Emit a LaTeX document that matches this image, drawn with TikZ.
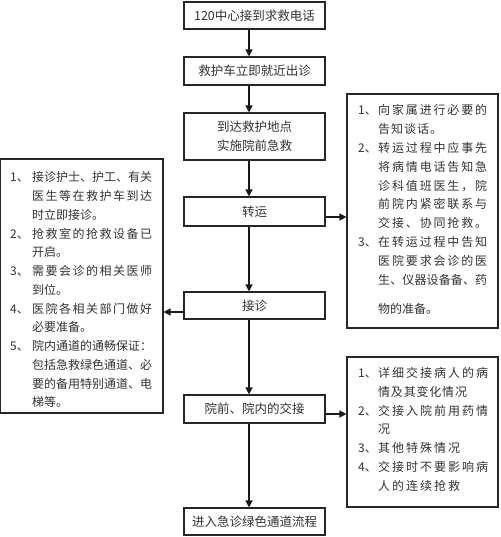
\documentclass[tikz,border=0pt]{standalone}
\usepackage{fontspec}
\setmainfont{Noto Sans CJK SC}
\usetikzlibrary{arrows.meta}
\newcommand\lbl[2]{\makebox[#1][l]{#2}}
\newcommand\cnt[1]{\hspace*{#1}}
% justified line: characters spread to a given width
\def\jfirstch#1{#1\jrestch}
\def\jrestch#1{\ifx#1\relax\else\hskip 0pt plus 1fil minus 2pt\relax#1\expandafter\jrestch\fi}
\newcommand\jline[2]{\makebox[#1][s]{\jfirstch#2\relax}}
% line with a fixed gap between characters
\def\gfirstch#1{#1\grestch}
\def\grestch#1{\ifx#1\relax\else\hskip\mygap\relax#1\expandafter\grestch\fi}
\newcommand\gline[2]{\def\mygap{#1}\gfirstch#2\relax}
\begin{document}
\begin{tikzpicture}[x=1pt,y=-1pt,
  mainbox/.style={draw=black!85,line width=1.1pt,minimum width=141pt,inner sep=0pt,
    align=center,font=\fontsize{12.5}{19}\selectfont,text=black!80},
  sidebox/.style={draw=black!85,line width=1.1pt,inner sep=0pt},
  sidetext/.style={anchor=north west,inner sep=0pt,align=left,text=black!80},
  arr/.style={line width=1.3pt,draw=black!90,-{Triangle[length=7pt,width=7pt]}}]
\useasboundingbox (0,0) rectangle (500,537);
\fill[white] (0,0) rectangle (500,537);
% main column
\node[mainbox,minimum height=27pt] (b1) at (254.5,15.5) {120中心接到求救电话};
\node[mainbox,minimum height=28pt] (b2) at (254.5,71) {救护车立即就近出诊};
\node[mainbox,minimum height=47pt] (b3) at (254.5,136.5) {到达救护地点\\实施院前急救};
\node[mainbox,minimum height=29pt] (b4) at (254.5,211.5) {转运};
\node[mainbox,minimum height=27pt] (b5) at (254.5,305.5) {接诊};
\node[mainbox,minimum height=28pt] (b6) at (254.5,409) {院前、院内的交接};
\node[mainbox,minimum height=27pt] (b7) at (254.5,521.5) {进入急诊绿色通道流程};
% side boxes
\node[sidebox,minimum width=163pt,minimum height=254pt] (L) at (81.5,286) {};
\node[sidebox,minimum width=151pt,minimum height=234pt] (R1) at (422.5,211) {};
\node[sidebox,minimum width=151pt,minimum height=150pt] (R2) at (422.5,432) {};
% side texts
\node[sidetext,font=\fontsize{12}{18.75}\selectfont] (Lt) at (10,171.5) {%
\lbl{22pt}{1、}\jline{120pt}{接诊护士、护工、有关}\\
\cnt{22pt}\jline{120pt}{医生等在救护车到达}\\
\cnt{22pt}时立即接诊。\\
\lbl{22pt}{2、}\jline{120pt}{抢救室的抢救设备已}\\
\cnt{22pt}开启。\\
\lbl{22pt}{3、}\jline{120pt}{需要会诊的相关医师}\\
\cnt{22pt}到位。\\
\lbl{22pt}{4、}\jline{120pt}{医院各相关部门做好}\\
\cnt{22pt}必要准备。\\
\lbl{22pt}{5、}\jline{120pt}{院内通道的通畅保证：}\\
\cnt{22pt}\jline{120pt}{包括急救绿色通道、必}\\
\cnt{22pt}\jline{120pt}{要的备用特别通道、电}\\
\cnt{22pt}梯等。};
\node[sidetext,font=\fontsize{12}{18.8}\selectfont] (R1t) at (358,104.5) {%
\lbl{20pt}{1、}\jline{109pt}{向家属进行必要的}\\
\cnt{20pt}\gline{1pt}{告知谈话。}\\
\lbl{20pt}{2、}\jline{109pt}{转运过程中应事先}\\
\cnt{20pt}\jline{109pt}{将病情电话告知急}\\
\cnt{20pt}\jline{109pt}{诊科值班医生，院}\\
\cnt{20pt}\jline{109pt}{前院内紧密联系与}\\
\cnt{20pt}\jline{109pt}{交接、协同抢救。}\\
\lbl{20pt}{3、}\jline{109pt}{在转运过程中告知}\\
\cnt{20pt}\jline{109pt}{医院要求会诊的医}\\
\cnt{20pt}\jline{109pt}{生、仪器设备备、药}\\[11pt]
\cnt{20pt}物的准备。};
\node[sidetext,font=\fontsize{12}{18.7}\selectfont] (R2t) at (358,367.5) {%
\lbl{20pt}{1、}\jline{110pt}{详细交接病人的病}\\
\cnt{20pt}\gline{0.8pt}{情及其变化情况}\\
\lbl{20pt}{2、}\jline{110pt}{交接入院前用药情}\\
\cnt{20pt}况\\
\lbl{20pt}{3、}\gline{2pt}{其他特殊情况}\\
\lbl{20pt}{4、}\jline{110pt}{交接时不要影响病}\\
\cnt{20pt}\gline{2pt}{人的连续抢救}};
% connectors
\coordinate (ax) at (249,0);
\draw[arr] (b1.south -| ax) -- (b2.north -| ax);
\draw[arr] (b2.south -| ax) -- (b3.north -| ax);
\draw[arr] (b3.south -| ax) -- (b4.north -| ax);
\draw[arr] (b4.south -| ax) -- (b5.north -| ax);
\draw[arr] (b5.south -| ax) -- (b6.north -| ax);
\draw[arr] (b6.south -| ax) -- (b7.north -| ax);
\coordinate (y1) at (0,217);
\coordinate (y2) at (0,312);
\coordinate (y3) at (0,414);
\draw[arr] (b4.east |- y1) -- (R1.west |- y1);
\draw[arr] (b5.west |- y2) -- (L.east |- y2);
\draw[arr] (b6.east |- y3) -- (R2.west |- y3);
\end{tikzpicture}
\end{document}
